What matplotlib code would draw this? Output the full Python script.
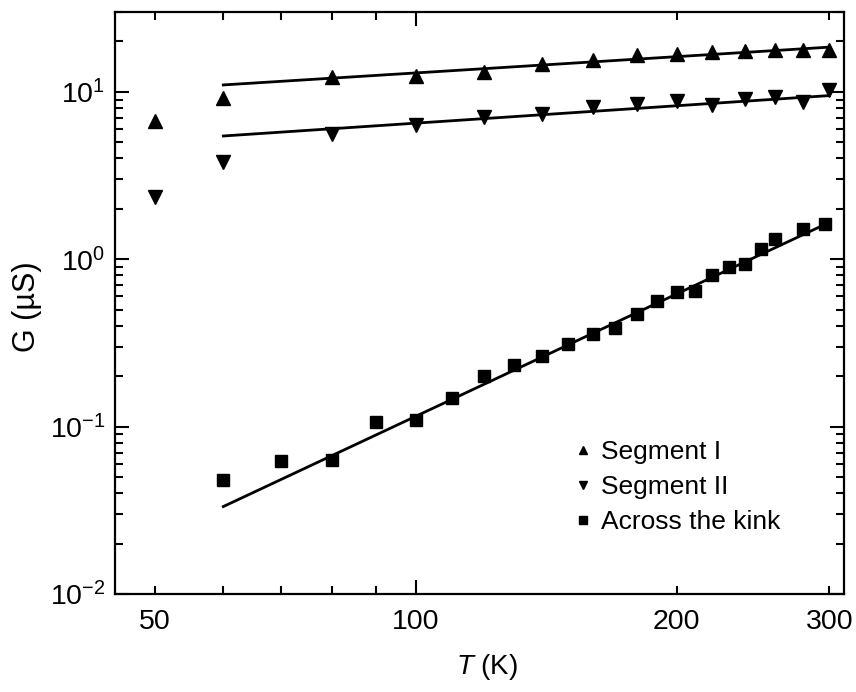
import matplotlib
matplotlib.use("Agg")
import matplotlib.pyplot as plt
from matplotlib.ticker import FixedLocator, FixedFormatter, LogLocator, NullFormatter

plt.rcParams["font.family"] = ["Liberation Sans", "DejaVu Sans"]
plt.rcParams["mathtext.fontset"] = "custom"
plt.rcParams["mathtext.rm"] = "Liberation Sans"
plt.rcParams["mathtext.it"] = "Liberation Sans:italic"

# Temperatures (K) for the two segments
T_seg = [50, 60, 80, 100, 120, 140, 160, 180, 200, 220, 240, 260, 280, 300]
G_seg1 = [6.7, 9.2, 12.3, 12.4, 13.1, 14.7, 15.4, 16.5, 16.9, 17.3, 17.5, 17.7, 17.9, 17.7]
G_seg2 = [2.34, 3.8, 5.6, 6.3, 7.05, 7.4, 8.15, 8.45, 8.85, 8.3, 9.1, 9.3, 8.65, 10.2]

# Conductance measured across the kink
T_kink = [60, 70, 80, 90, 100, 110, 120, 130, 140, 150, 160, 170,
          180, 190, 200, 210, 220, 230, 240, 250, 260, 280, 297]
G_kink = [0.048, 0.062, 0.063, 0.106, 0.109, 0.148, 0.20, 0.235, 0.266, 0.312, 0.356, 0.389,
          0.469, 0.563, 0.64, 0.646, 0.805, 0.899, 0.933, 1.148, 1.318, 1.51, 1.63]

# Power-law fits, given by their end points
fit_T = [60, 300]
fit_seg1 = [11.0, 18.5]
fit_seg2 = [5.45, 9.5]
fit_kink = [0.0333, 1.66]

fig = plt.figure(figsize=(8.56, 6.92), dpi=100)
ax = fig.add_axes([115 / 856, 98 / 692, 729 / 856, 582 / 692])

ms = 9.5
ax.plot(T_seg, G_seg1, "^", color="black", ms=ms, label="Segment I")
ax.plot(T_seg, G_seg2, "v", color="black", ms=ms, label="Segment II")
ax.plot(T_kink, G_kink, "s", color="black", ms=8.8, label="Across the kink")

for g in (fit_seg1, fit_seg2, fit_kink):
    ax.plot(fit_T, g, "-", color="black", lw=2.0)

ax.set_xscale("log")
ax.set_yscale("log")
ax.set_xlim(45, 312)
ax.set_ylim(0.01, 30)

# x ticks: long tick at 100, short ones elsewhere
ax.xaxis.set_major_locator(FixedLocator([100]))
ax.xaxis.set_major_formatter(FixedFormatter(["100"]))
ax.xaxis.set_minor_locator(FixedLocator([50, 60, 70, 80, 90, 200, 300]))
ax.xaxis.set_minor_formatter(FixedFormatter(["50", "", "", "", "", "200", "300"]))

ax.yaxis.set_major_locator(LogLocator(base=10, numticks=10))
ax.yaxis.set_minor_locator(LogLocator(base=10, subs=range(2, 10), numticks=20))
ax.yaxis.set_minor_formatter(NullFormatter())

ax.tick_params(which="both", direction="in", top=True, right=True,
               width=1.5, labelsize=20.5, colors="black")
ax.tick_params(which="major", length=10)
ax.tick_params(which="minor", length=6)
ax.tick_params(axis="x", which="both", pad=11)
ax.tick_params(axis="y", which="both", pad=7)

for s in ax.spines.values():
    s.set_linewidth(1.6)

ax.set_xlabel(r"$\it{T}$ (K)", fontsize=20)
ax.set_ylabel("G (\u00b5S)", fontsize=22)
ax.xaxis.set_label_coords(0.51, -0.10)
ax.yaxis.set_label_coords(-0.100, 0.494)

ax.legend(loc="center left", bbox_to_anchor=(0.613, 0.184), frameon=False,
          fontsize=19, markerscale=0.68, handlelength=0.6, handletextpad=0.4,
          borderpad=0, labelspacing=0.42)

fig.savefig("out.png", dpi=100)
